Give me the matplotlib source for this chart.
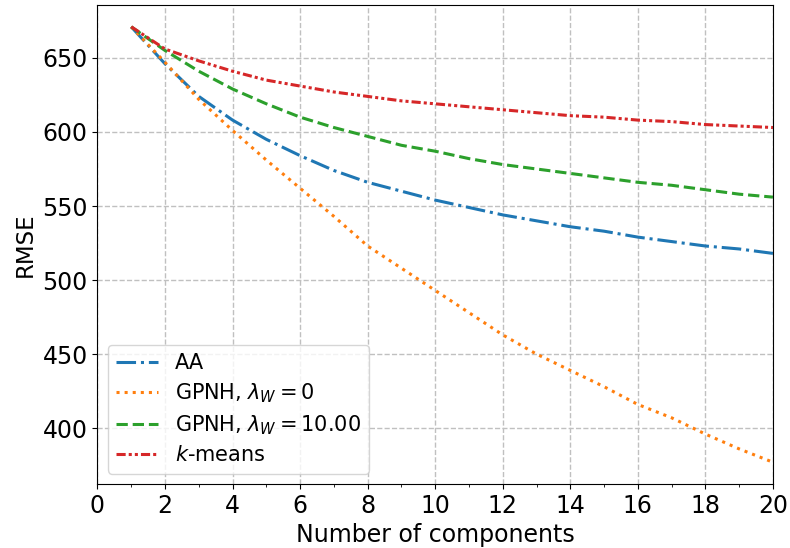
import numpy as np
import matplotlib
matplotlib.use("Agg")
import matplotlib.pyplot as plt
from matplotlib.ticker import MultipleLocator

n_comp = list(range(1, 21))

rmse_aa = [671, 646, 624, 608, 595, 584, 574, 566, 560, 554,
           549, 544, 540, 536, 533, 529, 526, 523, 521, 518]
rmse_gpnh0 = [671, 647, 622, 601, 581, 562, 543, 523, 508, 493,
              478, 463, 450, 439, 428, 416, 407, 396, 386, 377]
rmse_gpnh10 = [671, 655, 641, 629, 619, 610, 603, 597, 591, 587,
               582, 578, 575, 572, 569, 566, 564, 561, 558, 556]
rmse_kmeans = [671, 656, 648, 641, 635, 631, 627, 624, 621, 619,
               617, 615, 613, 611, 610, 608, 607, 605, 604, 603]

labels = ["AA", r"GPNH, $\lambda_W = 0$", r"GPNH, $\lambda_W = 10.00$", r"$k$-means"]
colors = ["#1f77b4", "#ff7f0e", "#2ca02c", "#d62728"]
styles = ["-.", ":", "--", (0, (3, 1, 1, 1, 1, 1))]

fig = plt.figure(figsize=(7.9, 5.48), dpi=100)
ax = fig.add_axes([0.1234, 0.1168, 0.855, 0.874])

series = [rmse_aa, rmse_gpnh0, rmse_gpnh10, rmse_kmeans]
for ys, lab, c, ls in zip(series, labels, colors, styles):
    ax.plot(n_comp, ys, color=c, linestyle=ls, linewidth=2.2, label=lab)

ax.set_xlim(0, 20)
ax.xaxis.set_major_locator(MultipleLocator(2))
ax.xaxis.set_minor_locator(MultipleLocator(1))
ax.grid(True, which="major", linestyle="--", color="#c0c0c0", linewidth=1)
ax.tick_params(axis="both", which="major", labelsize=17)
ax.set_xlabel("Number of components", fontsize=17, labelpad=3.5)
ax.set_ylabel("RMSE", fontsize=16.5)
ax.legend(loc="lower left", fontsize=15, labelspacing=0.4)

fig.savefig("out.png", dpi=100)
